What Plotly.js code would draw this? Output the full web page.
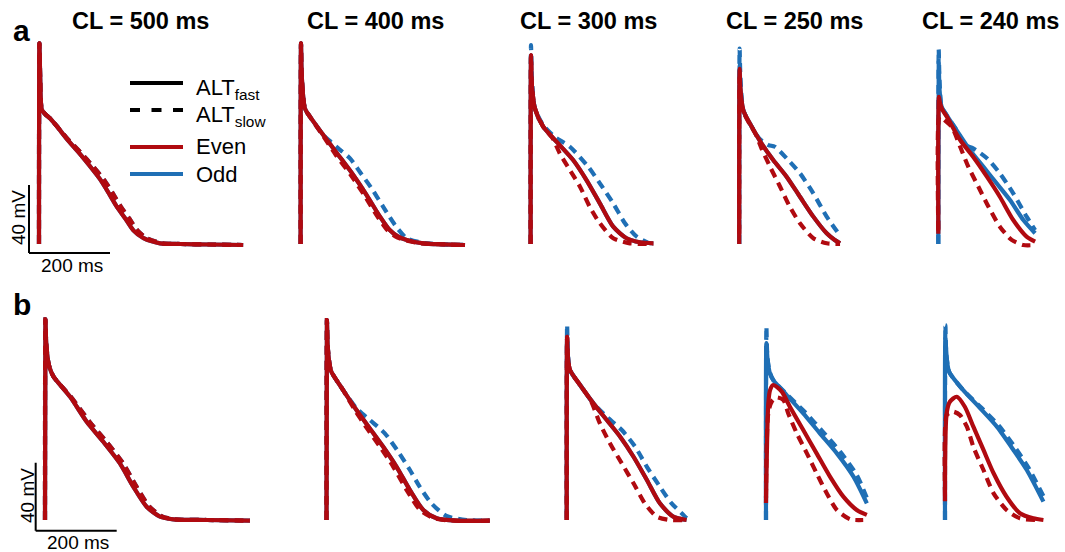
<!DOCTYPE html>
<html>
<head>
<meta charset="utf-8">
<script src="https://cdn.plot.ly/plotly-3.0.1.min.js"></script>
<style>html,body{margin:0;padding:0;background:#fff;}#chart{width:1065px;height:552px;}</style>
</head>
<body>
<div id="chart"></div>
<script>
// ---------------- DATA (time in ms from upstroke, membrane potential in mV) ----------------
const CYCLE_LENGTHS = [500, 400, 300, 250, 240];
const TITLES = ["CL = 500 ms", "CL = 400 ms", "CL = 300 ms", "CL = 250 ms", "CL = 240 ms"];
const SCALE_MV = 40, SCALE_MS = 200;

// Row a
const A1_EF_T = [0, 1, 3, 7, 15, 27, 45, 68, 101, 125, 151, 172, 192, 213, 233, 258, 299, 350, 420, 504];
const A1_EF_V = [-86, 32, 12, -7, -9.5, -12, -17, -24, -33, -40, -48, -56, -64, -71, -78, -82.6, -85.6, -86, -86.3, -86.6];
const A1_ES_T = [0, 1, 3, 7, 15, 27, 45, 70, 106, 132, 160, 182, 202, 223, 243, 266, 305, 350, 420, 504];
const A1_ES_V = [-86, 32, 12, -7, -9.5, -12, -17, -24, -33, -40, -48, -56, -64, -71, -78, -82.6, -85.6, -86, -86.3, -86.6];
const A1_OF_T = A1_EF_T, A1_OF_V = A1_EF_V, A1_OS_T = A1_ES_T, A1_OS_V = A1_ES_V;

const A2_EF_T = [0, 1, 3, 10.6, 23, 56, 93, 130, 163, 196, 220, 240, 262, 303, 350, 406];
const A2_EF_V = [-86, 32, 12, -6.2, -11.1, -21.9, -33.6, -45.4, -57.2, -69.9, -77.8, -81.5, -83.6, -85.6, -86.2, -86.6];
const A2_ES_T = [0, 1, 3, 10.6, 23, 54, 87, 124, 157, 190, 214, 234, 256, 297, 350, 406];
const A2_ES_V = [-86, 32, 12, -6.2, -11.1, -21.9, -33.6, -45.4, -57.2, -69.9, -77.8, -81.5, -83.6, -85.6, -86.2, -86.6];
const A2_OS_T = [0, 1, 3, 10.6, 23, 56, 75, 93, 122, 146, 175, 204, 233, 262, 311, 350, 406];
const A2_OS_V = [-86, 32, 12, -6.2, -11.1, -21.9, -26, -29.7, -35.6, -43.5, -53.2, -64.1, -74.8, -82.6, -85.6, -86.2, -86.6];
const A2_OF_T = A2_EF_T, A2_OF_V = A2_EF_V;

const A3_EF_T = [0, 1, 3, 10.6, 31, 68, 105, 138, 171, 204, 237, 270, 303];
const A3_EF_V = [-86, 25, 8, -6.2, -17, -26.8, -36.6, -48.4, -62.1, -75.8, -82.6, -85, -85.6];
const A3_ES_T = [0, 1, 3, 10.6, 31, 55, 72, 97, 122, 146, 171, 204, 245, 303];
const A3_ES_V = [-86, 25, 8, -6.2, -17, -24, -32.7, -42.5, -52.3, -64.1, -73.8, -82.6, -85.6, -85.8];
const A3_OS_T = [0, 1, 3, 10.6, 31, 60, 97, 142, 171, 204, 233, 262, 290, 303];
const A3_OS_V = [-86, 31, 12, -6.2, -16, -23, -28.8, -40.5, -50.3, -62.1, -73.8, -81.7, -85.2, -85.6];
const A3_OF_T = A3_EF_T, A3_OF_V = A3_EF_V;

const A4_EF_T = [0, 1, 3, 10, 26, 55, 84, 117, 150, 183, 216, 235, 249];
const A4_EF_V = [-86, 17, 5, -7.2, -15, -26.8, -36.6, -46.4, -58.2, -69.9, -79.7, -83.5, -85.6];
const A4_ES_T = [0, 1, 3, 10, 26, 40, 55, 76, 101, 125, 150, 183, 216, 249];
const A4_ES_V = [-80, 12, 2, -8, -15.5, -21, -29.7, -40.5, -52.3, -64.1, -73.8, -82.6, -85.6, -86];
const A4_OF_T = [0, 1, 3, 10, 26, 55, 84, 117, 150, 183, 216, 235, 249];
const A4_OF_V = [-86, 19, 6, -7.2, -15, -26.8, -36.6, -46.4, -58.2, -69.9, -79.7, -83.5, -85.6];
const A4_OS_T = [0, 1, 3, 10, 26, 50, 72, 88, 117, 150, 183, 216, 245];
const A4_OS_V = [-86, 29, 12, -7.2, -15, -24, -27.8, -28.8, -35.6, -44.4, -56.2, -69.9, -79.7];

const A5_EF_T = [0, 1.5, 4, 10, 21, 54, 86, 120, 152, 185, 218, 239];
const A5_EF_V = [-80, 0.6, -3, -7, -11.1, -24.8, -34.7, -46.4, -58.2, -71.9, -81.7, -84.6];
const A5_ES_T = [0, 1.5, 5, 15, 33, 54, 74, 99, 124, 152, 181, 210, 239];
const A5_ES_V = [-78, -12, -11, -13, -17, -28.8, -40.5, -52.3, -64.1, -75.8, -83.6, -86.6, -86.6];
const A5_OF_T = [0, 1, 3, 8, 20, 45, 78, 111, 144, 177, 210, 239];
const A5_OF_V = [-86, 20.5, 5, -5, -10, -19, -30.7, -40.5, -50.3, -60.1, -71.9, -79.7];
const A5_OS_T = [0, 1, 3, 8, 20, 45, 66, 86, 120, 152, 185, 218, 239];
const A5_OS_V = [-86, 28.5, 10, -5, -10, -19, -27.8, -29.7, -35.6, -44.4, -56.2, -69.9, -77.8];

// Row b
const B1_EF_T = [0, 1, 3, 8, 12, 21, 62, 103, 144, 185, 218, 251, 284, 317, 400, 506];
const B1_EF_V = [-86, 32, 18, 7, 3.2, -1.7, -13.5, -28.2, -40, -52.7, -66.4, -78.2, -84, -85.6, -86, -86.4];
const B1_ES_T = [0, 1, 3, 8, 12, 21, 64, 110, 152, 193, 226, 258, 290, 322, 400, 506];
const B1_ES_V = [-86, 32, 18, 7, 3.2, -1.7, -13.5, -28.2, -40, -52.7, -66.4, -78.2, -84, -85.6, -86, -86.4];
const B1_OF_T = B1_EF_T, B1_OF_V = B1_EF_V, B1_OS_T = B1_ES_T, B1_OS_V = B1_ES_V;

const B2_EF_T = [0, 1, 3, 8, 12, 41, 74, 107, 140, 173, 206, 239, 272, 321, 403];
const B2_EF_V = [-86, 31.6, 16, 5, 1.2, -9.6, -21.3, -32.1, -42.9, -54.7, -68.4, -80.1, -85, -86.4, -86.4];
const B2_ES_T = [0, 1, 3, 8, 12, 41, 70, 100, 132, 165, 198, 231, 266, 315, 403];
const B2_ES_V = [-86, 31.6, 16, 5, 1.2, -9.6, -21.3, -32.1, -42.9, -54.7, -68.4, -80.1, -85, -86.4, -86.4];
const B2_OS_T = [0, 1, 3, 8, 12, 41, 74, 107, 144, 177, 206, 230, 259, 296, 346, 403];
const B2_OS_V = [-86, 31.6, 16, 5, 1.2, -9.6, -20.3, -27.2, -35, -45.8, -56.6, -66.4, -76.2, -83.6, -86, -86.4];
const B2_OF_T = B2_EF_T, B2_OF_V = B2_EF_V;

const B3_EF_T = [0, 1, 3, 8, 33, 66, 99, 132, 165, 198, 230, 263, 296];
const B3_EF_V = [-86, 21.8, 10, 2.2, -6.6, -17.4, -27.2, -37, -48.8, -62.5, -76.2, -84, -86];
const B3_ES_T = [0, 1, 3, 8, 33, 60, 82, 107, 136, 165, 193, 222, 255, 296];
const B3_ES_V = [-86, 21.8, 10, 2.2, -6.6, -16, -29.2, -41, -52.7, -64.4, -76.2, -84, -86, -86];
const B3_OS_T = [0, 1, 3, 8, 33, 66, 99, 136, 169, 198, 230, 259, 288, 296];
const B3_OS_V = [-85, 28.7, 12, 2.2, -6.6, -17.4, -25.3, -33.1, -42.9, -54.7, -66.4, -76.2, -83, -85];
const B3_OF_T = B3_EF_T, B3_OF_V = B3_EF_V;

const B4_EF_T = [0, 5.7, 10, 18, 39, 59, 92, 125, 158, 191, 224, 249];
const B4_EF_V = [-76, -17.4, -9.6, -6.6, -10.5, -19.4, -33.1, -46.8, -60.5, -72.3, -80.1, -83];
const B4_ES_T = [0, 6, 15, 26, 43, 55, 76, 101, 125, 150, 175, 208, 240];
const B4_ES_V = [-73, -22.3, -16, -13.9, -15.4, -23.3, -35, -46.8, -58.5, -70.3, -80.1, -85.6, -86];
const B4_OF_T = [0, 1, 4, 10, 18, 51, 92, 133, 175, 216, 249];
const B4_OF_V = [-86, 18, 8, 0, -3.7, -12.5, -23.3, -35, -46.8, -60.5, -76.2];
const B4_OS_T = [0, 1, 3, 8, 18, 51, 96, 140, 183, 224, 249];
const B4_OS_V = [-86, 27.7, 12, 2, -3.7, -12, -22.5, -34, -45.8, -59.5, -73];

const B5_EF_T = [0, 4, 12, 29, 49, 70, 95, 120, 152, 185, 218, 243];
const B5_EF_V = [-75, -23.3, -16.4, -13.5, -19.4, -31.1, -44.8, -58.5, -72.3, -82, -85, -86];
const B5_ES_T = [0, 4, 12, 21, 37, 54, 70, 95, 120, 152, 185, 235];
const B5_ES_V = [-72, -24.3, -23, -22.3, -24.3, -31.1, -42.9, -56.6, -70.3, -80.1, -85, -86];
const B5_OF_T = [0, 1, 4, 8, 12, 45, 87, 128, 169, 202, 243];
const B5_OF_V = [-86, 21, 10, 3, 0.3, -9.6, -20.3, -31.1, -44.8, -56.6, -75.2];
const B5_OS_T = [0, 1, 3, 8, 12, 45, 90, 133, 175, 207, 243];
const B5_OS_V = [-86, 28.7, 12, 3, 0.3, -9.6, -20, -30.5, -44, -55.6, -72];

// ---------------- LAYOUT / STYLE ----------------
const W = 1065, H = 552;
const PX_PER_MS = 0.405, PX_PER_MV = 1.7;
const V_ANCHOR = -86, V_MIN = -96, V_MAX = 40, T_MIN = -30;
const RED = "#b00a10", BLUE = "#1f6fb5";
const LW = 4.2, DASH = "9px,6px";
const FONT = "Liberation Sans, Arial, Helvetica, sans-serif";

const rows = [
  {yRest: 244, xUp: [39, 300.6, 530.6, 739.2, 938.3], data: [
    [A1_EF_T, A1_EF_V, A1_ES_T, A1_ES_V, A1_OF_T, A1_OF_V, A1_OS_T, A1_OS_V],
    [A2_EF_T, A2_EF_V, A2_ES_T, A2_ES_V, A2_OF_T, A2_OF_V, A2_OS_T, A2_OS_V],
    [A3_EF_T, A3_EF_V, A3_ES_T, A3_ES_V, A3_OF_T, A3_OF_V, A3_OS_T, A3_OS_V],
    [A4_EF_T, A4_EF_V, A4_ES_T, A4_ES_V, A4_OF_T, A4_OF_V, A4_OS_T, A4_OS_V],
    [A5_EF_T, A5_EF_V, A5_ES_T, A5_ES_V, A5_OF_T, A5_OF_V, A5_OS_T, A5_OS_V]]},
  {yRest: 520, xUp: [45, 326.5, 566.7, 766, 945], data: [
    [B1_EF_T, B1_EF_V, B1_ES_T, B1_ES_V, B1_OF_T, B1_OF_V, B1_OS_T, B1_OS_V],
    [B2_EF_T, B2_EF_V, B2_ES_T, B2_ES_V, B2_OF_T, B2_OF_V, B2_OS_T, B2_OS_V],
    [B3_EF_T, B3_EF_V, B3_ES_T, B3_ES_V, B3_OF_T, B3_OF_V, B3_OS_T, B3_OS_V],
    [B4_EF_T, B4_EF_V, B4_ES_T, B4_ES_V, B4_OF_T, B4_OF_V, B4_OS_T, B4_OS_V],
    [B5_EF_T, B5_EF_V, B5_ES_T, B5_ES_V, B5_OF_T, B5_OF_V, B5_OS_T, B5_OS_V]]}
];

const px = x => x / W, py = y => 1 - y / H;
const traces = [];
const layout = {
  width: W, height: H, margin: {l: 0, r: 0, t: 0, b: 0},
  paper_bgcolor: "#fff", plot_bgcolor: "rgba(0,0,0,0)", showlegend: false,
  shapes: [], annotations: []
};

let k = 0;
rows.forEach((row, r) => {
  row.data.forEach((d, c) => {
    k++;
    const ax = k === 1 ? "" : String(k);
    const tMax = CYCLE_LENGTHS[c] + 20;
    const x0 = row.xUp[c] + T_MIN * PX_PER_MS, x1 = row.xUp[c] + tMax * PX_PER_MS;
    const yb = row.yRest + (V_ANCHOR - V_MIN) * PX_PER_MV, yt = row.yRest - (V_MAX - V_ANCHOR) * PX_PER_MV;
    layout["xaxis" + ax] = {domain: [px(x0), px(x1)], range: [T_MIN, tMax], visible: false, fixedrange: true, anchor: "y" + ax};
    layout["yaxis" + ax] = {domain: [py(yb), py(yt)], range: [V_MIN, V_MAX], visible: false, fixedrange: true, anchor: "x" + ax};
    const [eft, efv, est, esv, oft, ofv, ost, osv] = d;
    const mk = (t, v, color, dash) => ({x: t, y: v, type: "scatter", mode: "lines", xaxis: "x" + ax, yaxis: "y" + ax,
      line: {color: color, width: LW, dash: dash, shape: "spline", smoothing: 0.7}, hoverinfo: "skip", cliponaxis: false});
    traces.push(mk(ost, osv, BLUE, DASH));
    traces.push(mk(oft, ofv, BLUE, "solid"));
    traces.push(mk(est, esv, RED, DASH));
    traces.push(mk(eft, efv, RED, "solid"));
  });
});

// Column titles
const titleX = [140, 375, 588, 794, 990];
TITLES.forEach((t, i) => layout.annotations.push({text: "<b>" + t + "</b>", xref: "paper", yref: "paper", x: px(titleX[i]), y: py(21),
  xanchor: "center", yanchor: "middle", showarrow: false, font: {family: FONT, size: 23.5, color: "#000"}}));
// Panel letters
[["a", 21, 30], ["b", 22, 304]].forEach(([t, x, y]) => layout.annotations.push({text: "<b>" + t + "</b>", xref: "paper", yref: "paper",
  x: px(x), y: py(y), xanchor: "center", yanchor: "middle", showarrow: false, font: {family: FONT, size: 30, color: "#000"}}));

// Legend
const legItems = [
  {y: 83, color: "#000", dash: "solid", text: "ALT<sub>fast</sub>", ty: 89},
  {y: 110, color: "#000", dash: "10px,11.5px", text: "ALT<sub>slow</sub>", ty: 116},
  {y: 147, color: RED, dash: "solid", text: "Even", ty: 147},
  {y: 174, color: BLUE, dash: "solid", text: "Odd", ty: 174}
];
legItems.forEach(it => {
  layout.shapes.push({type: "line", xref: "paper", yref: "paper", x0: px(130), x1: px(183), y0: py(it.y), y1: py(it.y),
    line: {color: it.color, width: LW, dash: it.dash}});
  layout.annotations.push({text: it.text, xref: "paper", yref: "paper", x: px(194), y: py(it.ty), xanchor: "left", yanchor: "middle",
    showarrow: false, font: {family: FONT, size: 22, color: "#000"}});
});

// Scale bars (drawn in the first panel's data units of each row)
[[{xa: "x", ya: "y", t0: -24.7, v0: -91.3}, 18, 217, 72, 266], [{xa: "x6", ya: "y6", t0: -23, v0: -92.3}, 27, 496, 78, 542]].forEach(([s, vtx, vty, htx, hty]) => {
  layout.shapes.push({type: "line", xref: s.xa, yref: s.ya, x0: s.t0, x1: s.t0, y0: s.v0, y1: s.v0 + SCALE_MV, line: {color: "#000", width: 2}});
  layout.shapes.push({type: "line", xref: s.xa, yref: s.ya, x0: s.t0, x1: s.t0 + SCALE_MS, y0: s.v0, y1: s.v0, line: {color: "#000", width: 2}});
  layout.annotations.push({text: SCALE_MV + " mV", xref: "paper", yref: "paper", x: px(vtx), y: py(vty), textangle: -90,
    xanchor: "center", yanchor: "middle", showarrow: false, font: {family: FONT, size: 19, color: "#000"}});
  layout.annotations.push({text: SCALE_MS + " ms", xref: "paper", yref: "paper", x: px(htx), y: py(hty),
    xanchor: "center", yanchor: "middle", showarrow: false, font: {family: FONT, size: 19, color: "#000"}});
});

Plotly.newPlot("chart", traces, layout, {staticPlot: true, displayModeBar: false});
</script>
</body>
</html>
